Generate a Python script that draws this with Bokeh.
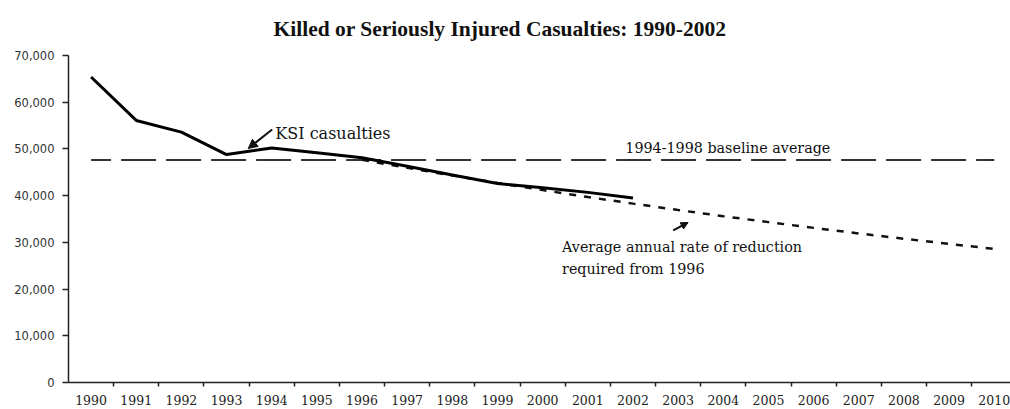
from bokeh.plotting import figure
from bokeh.models import Range1d, FixedTicker, NumeralTickFormatter, Label, Arrow, NormalHead
from bokeh.embed import file_html
from bokeh.resources import INLINE

years = list(range(1990, 2011))
ksi_years = list(range(1990, 2003))
ksi_values = [65400, 56100, 53600, 48800, 50200, 49200, 48100, 46300, 44400, 42600, 41700, 40700, 39500]
baseline_years = [1990, 2010]
baseline_value = 47656
target_years = list(range(1996, 2011))
target_values = [47656, 45950, 44310, 42720, 41190, 39710, 38290, 36920, 35600, 34330,
                 33100, 31910, 30770, 29670, 28600]
y_ticks = [0, 10000, 20000, 30000, 40000, 50000, 60000, 70000]

p = figure(width=1010, height=409, output_backend="svg", toolbar_location=None,
           x_range=Range1d(1989.5, 2010.36), y_range=Range1d(0, 70000),
           min_border_left=68, min_border_right=0, min_border_bottom=27, min_border_top=55)
p.title.text = "Killed or Seriously Injured Casualties: 1990-2002"
p.title.text_font = "Liberation Serif"
p.title.text_font_size = "21.5px"
p.title.text_font_style = "bold"
p.title.align = "left"
p.title.offset = 205
p.title.standoff = 29
p.title.text_color = "#111111"

p.outline_line_color = None
p.xgrid.visible = False
p.ygrid.visible = False

p.xaxis.ticker = FixedTicker(ticks=years, minor_ticks=[y + 0.5 for y in years[:-1]])
p.xaxis.major_tick_out = 0
p.xaxis.major_tick_in = 0
p.xaxis.minor_tick_out = 4
p.xaxis.minor_tick_in = 0
p.xaxis.minor_tick_line_color = "#222222"
p.xaxis.minor_tick_line_width = 1.5
p.xaxis.axis_line_color = "#222222"
p.xaxis.axis_line_width = 1.5
p.xaxis.major_label_text_font = "DejaVu Serif"
p.xaxis.major_label_text_font_size = "12.5px"
p.xaxis.major_label_text_color = "#222222"
p.xaxis.major_label_standoff = 8

p.yaxis.ticker = FixedTicker(ticks=y_ticks, minor_ticks=[])
p.yaxis.formatter = NumeralTickFormatter(format="0,0")
p.yaxis.major_tick_out = 6
p.yaxis.major_tick_in = 0
p.yaxis.major_tick_line_color = "#222222"
p.yaxis.major_tick_line_width = 1.5
p.yaxis.axis_line_color = "#222222"
p.yaxis.axis_line_width = 1.5
p.yaxis.major_label_text_font = "DejaVu Sans"
p.yaxis.major_label_text_font_size = "11.5px"
p.yaxis.major_label_text_color = "#333333"
p.yaxis.major_label_standoff = 8

# baseline average
p.line(baseline_years, [baseline_value, baseline_value], line_color="#333333",
       line_width=2, line_dash="35 10", line_dash_offset=15)
# target
p.line(target_years, target_values, line_color="#111111", line_width=2.5, line_dash="7 8")
# KSI
p.line(ksi_years, ksi_values, line_color="#000000", line_width=3, line_join="round")

fnt = "DejaVu Serif"
p.add_layout(Label(x=1994.08, y=53300, text="KSI casualties", text_font=fnt,
                   text_font_size="16px", text_color="#111111", text_baseline="alphabetic"))
p.add_layout(Arrow(x_start=1994.01, y_start=54160, x_end=1993.48, y_end=50100,
                   line_width=2, line_color="#111111",
                   end=NormalHead(size=9, fill_color="#111111", line_color="#111111")))
p.add_layout(Label(x=2001.83, y=50100, text="1994-1998 baseline average", text_font=fnt,
                   text_font_size="14.3px", text_color="#111111", text_baseline="alphabetic"))
p.add_layout(Label(x=2000.43, y=28900, text="Average annual rate of reduction", text_font=fnt,
                   text_font_size="14.3px", text_color="#111111", text_baseline="alphabetic"))
p.add_layout(Label(x=2000.43, y=24400, text="required from 1996", text_font=fnt,
                   text_font_size="14.3px", text_color="#111111", text_baseline="alphabetic"))
p.add_layout(Arrow(x_start=2002.89, y_start=32540, x_end=2003.22, y_end=34250,
                   line_width=2, line_color="#111111",
                   end=NormalHead(size=7, fill_color="#111111", line_color="#111111")))

open("out.html", "w").write(file_html(p, INLINE))
